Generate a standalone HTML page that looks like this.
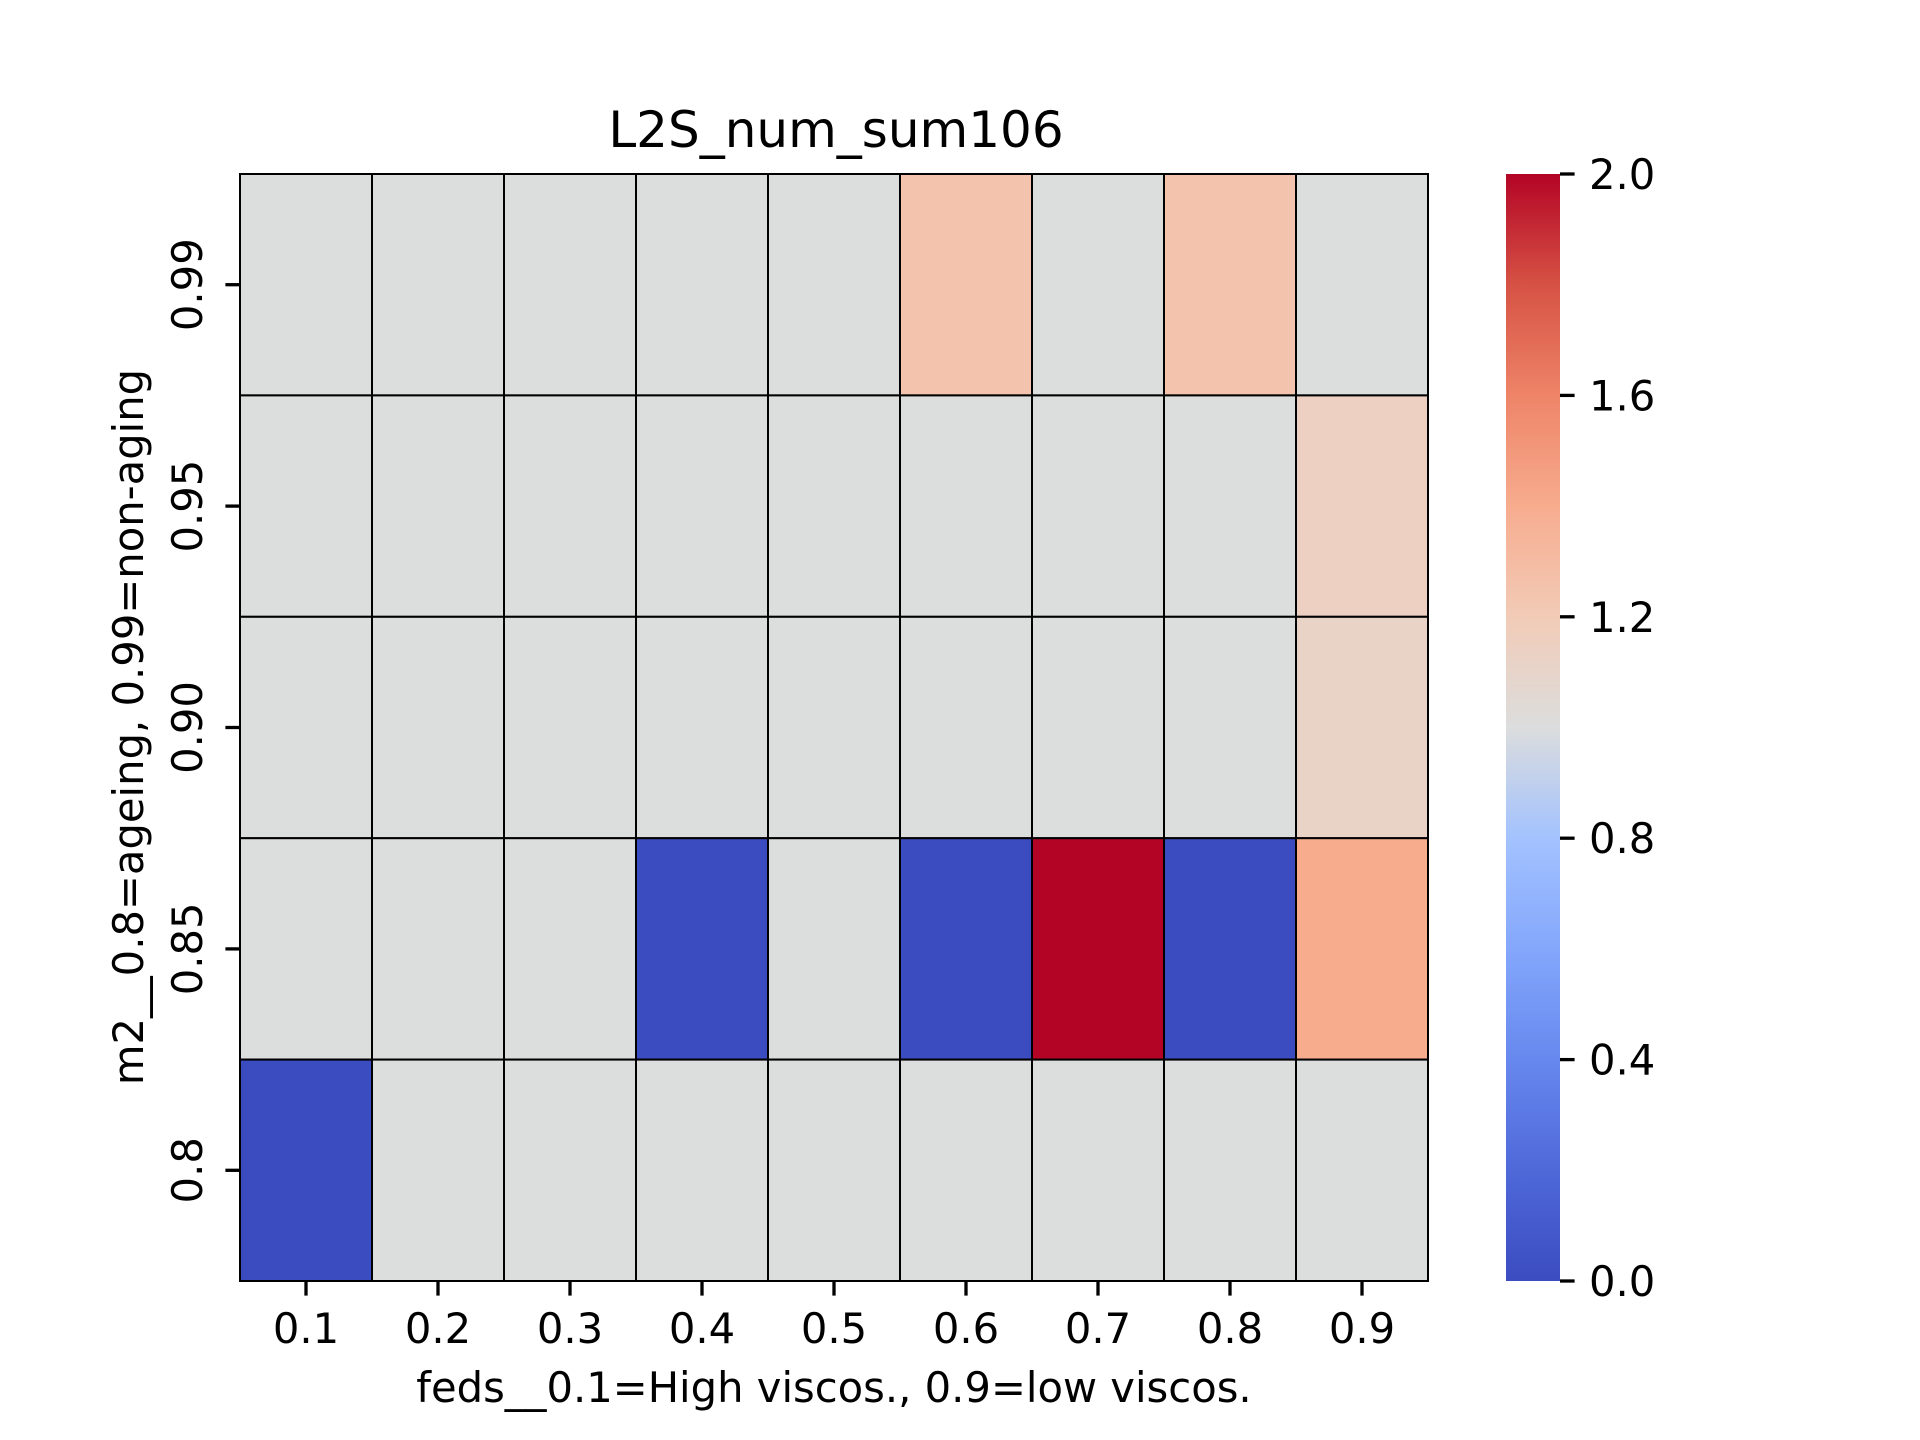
<!DOCTYPE html>
<html><head><meta charset="utf-8"><style>
html,body{margin:0;padding:0;background:#fff;}
svg{display:block;font-family:"DejaVu Sans","Liberation Sans",sans-serif;}
</style></head><body>
<svg id="chart" width="1920" height="1440" viewBox="0 0 1920 1440" xmlns="http://www.w3.org/2000/svg">
<defs>
<linearGradient id="cw" x1="0" y1="1" x2="0" y2="0">
<stop offset="0" stop-color="#3b4cc0"/><stop offset="0.1" stop-color="#4f69d9"/><stop offset="0.2" stop-color="#6788ee"/><stop offset="0.3" stop-color="#84a7fc"/><stop offset="0.4" stop-color="#a3c2fe"/><stop offset="0.5" stop-color="#dcdddd"/><stop offset="0.6" stop-color="#f2cbb7"/><stop offset="0.7" stop-color="#f7ac8e"/><stop offset="0.8" stop-color="#ee8468"/><stop offset="0.9" stop-color="#d65244"/><stop offset="1" stop-color="#b40426"/>
</linearGradient>
</defs>
<text x="836" y="147" font-size="50" text-anchor="middle">L2S_num_sum106</text>
<g id="cells"></g>
<g id="xaxis"></g>
<g id="yaxis"></g>
<text x="834" y="1402" font-size="41.7" text-anchor="middle">feds__0.1=High viscos., 0.9=low viscos.</text>
<text transform="translate(132,727) rotate(-90)" font-size="41.7" text-anchor="middle" dominant-baseline="middle">m2__0.8=ageing, 0.99=non-aging</text>
<rect x="1506" y="174" width="54" height="1107" fill="url(#cw)"/>
<g id="cbar"></g>
</svg>
<script>
const xCats = ["0.1","0.2","0.3","0.4","0.5","0.6","0.7","0.8","0.9"];
const yCats = ["0.99","0.95","0.90","0.85","0.8"];
const row099 = [1,1,1,1,1,1.25,1,1.25,1];
const row095 = [1,1,1,1,1,1,1,1,1.15];
const row090 = [1,1,1,1,1,1,1,1,1.12];
const row085 = [1,1,1,0,1,0,2,0,1.4];
const row080 = [0,1,1,1,1,1,1,1,1];
const cbarTicks = [0,0.4,0.8,1.2,1.6,2.0];
const cbarLabels = ["0.0","0.4","0.8","1.2","1.6","2.0"];
const vmin = 0, vmax = 2;

const L=240,R=1428,T=174,B=1281;
const cw=(R-L)/xCats.length, ch=(B-T)/yCats.length;
const xPos=i=>L+i*cw, yPos=j=>T+j*ch;
const cbY=v=>B-(v-vmin)/(vmax-vmin)*(B-T);
const stops=[[59,76,192],[79,105,217],[103,136,238],[132,167,252],[163,194,254],[220,221,221],[242,203,183],[247,172,142],[238,132,104],[214,82,68],[180,4,38]];
function color(v){let t=Math.max(0,Math.min(1,(v-vmin)/(vmax-vmin)))*10;let i=Math.min(9,Math.floor(t)),f=t-i;const a=stops[i],b=stops[i+1];return `rgb(${a.map((c,k)=>Math.round(c+(b[k]-c)*f)).join(",")})`;}
const NS="http://www.w3.org/2000/svg";
function mk(tag,attrs,parent){const e=document.createElementNS(NS,tag);for(const k in attrs)e.setAttribute(k,attrs[k]);parent.appendChild(e);return e;}
const rows=[row099,row095,row090,row085,row080];
const cells=document.getElementById("cells");
rows.forEach((row,j)=>row.forEach((v,i)=>{
  const r=mk("rect",{x:xPos(i),y:yPos(j),width:cw,height:ch,fill:color(v),stroke:"#000","stroke-width":2},cells);
  
  
}));
const xa=document.getElementById("xaxis");
xCats.forEach((c,i)=>{
  const cx=xPos(i)+cw/2;
  const t=mk("line",{x1:cx,y1:B,x2:cx,y2:B+14.6,stroke:"#000","stroke-width":3.3},xa);
  
  
  const l=mk("text",{x:cx,y:1343,"font-size":41.7,"text-anchor":"middle"},xa);l.textContent=c;
  
  
});
const ya=document.getElementById("yaxis");
yCats.forEach((c,j)=>{
  const cy=yPos(j)+ch/2;
  const t=mk("line",{x1:L,y1:cy,x2:L-14.6,y2:cy,stroke:"#000","stroke-width":3.3},ya);
  
  
  const l=mk("text",{transform:`translate(191,${cy}) rotate(-90)`,"font-size":41.7,"text-anchor":"middle","dominant-baseline":"middle"},ya);l.textContent=c;
  
  
});
const cb=document.getElementById("cbar");
cbarTicks.forEach((v,k)=>{
  const y=cbY(v);
  const t=mk("line",{x1:1560,y1:y,x2:1574.6,y2:y,stroke:"#000","stroke-width":3.3},cb);
  
  
  const l=mk("text",{x:1589,y:y+15,"font-size":41.7},cb);l.textContent=cbarLabels[k];
  
  
});
</script>
</body></html>
